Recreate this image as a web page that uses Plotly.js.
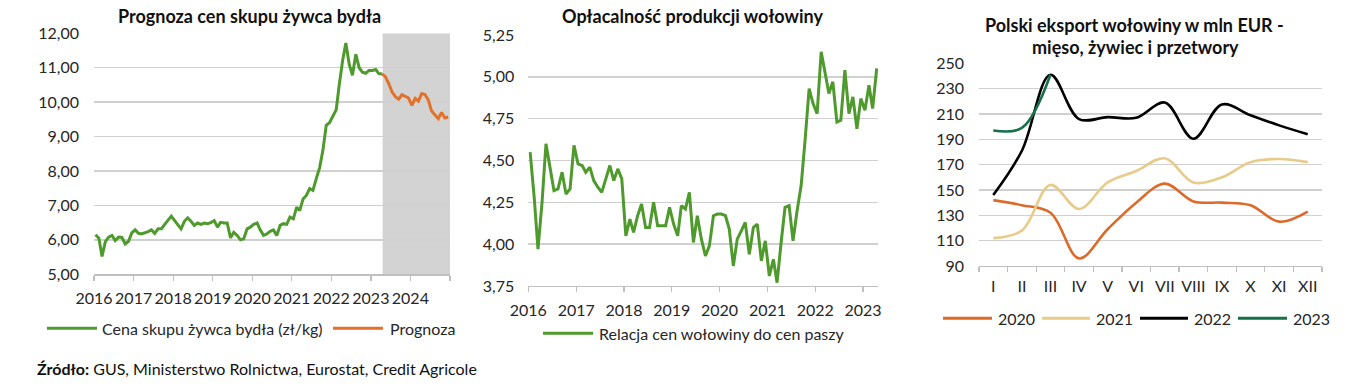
<!DOCTYPE html>
<html>
<head>
<meta charset="utf-8">
<script src="https://cdn.plot.ly/plotly-3.0.1.min.js"></script>
<style>
html,body{margin:0;padding:0;background:#fff;}
#chart{width:1355px;height:389px;}
</style>
</head>
<body>
<div id="chart"></div>
<script>
// ---------- DATA ----------
// Chart 1: monthly live cattle purchase price (zł/kg), Jan 2016 – Apr 2023
const priceStart = '2016-01';
const priceActual = [6.15,6.05,5.52,5.95,6.08,6.13,5.98,6.08,6.07,5.88,5.96,6.20,
  6.29,6.19,6.17,6.20,6.24,6.29,6.19,6.32,6.32,6.45,6.56,6.69,
  6.56,6.45,6.32,6.54,6.64,6.54,6.42,6.49,6.45,6.49,6.47,6.50,
  6.56,6.37,6.51,6.49,6.49,6.06,6.22,6.13,6.00,6.03,6.32,6.37,
  6.45,6.49,6.29,6.13,6.17,6.25,6.29,6.13,6.42,6.47,6.45,6.66,
  6.61,6.95,6.85,7.19,7.29,7.49,7.44,7.78,8.10,8.60,9.33,9.40,
  9.60,9.78,10.50,11.20,11.72,11.10,10.78,11.39,11.00,10.87,10.84,10.92,
  10.92,10.95,10.83,10.82];
// Forecast, Apr 2023 – Dec 2024
const forecastStart = '2023-04';
const priceForecast = [10.82,10.74,10.54,10.30,10.16,10.09,10.22,10.17,10.12,9.91,10.11,10.03,
  10.25,10.22,10.06,9.74,9.64,9.52,9.70,9.54,9.57];
const forecastShadeFrom = '2023-04-20';
const priceYearTicks = ['2016','2017','2018','2019','2020','2021','2022','2023','2024'];

// Chart 2: beef-to-feed price ratio, Jan 2016 – Apr 2023
const ratioStart = '2016-01';
const ratio = [4.55,4.28,3.97,4.25,4.60,4.45,4.32,4.33,4.43,4.30,4.33,4.59,
  4.48,4.47,4.43,4.46,4.38,4.34,4.31,4.39,4.47,4.38,4.45,4.39,
  4.05,4.15,4.07,4.17,4.24,4.10,4.10,4.25,4.11,4.11,4.11,4.22,
  4.12,4.05,4.23,4.21,4.31,4.01,4.17,4.03,3.93,3.99,4.17,4.18,
  4.18,4.17,4.09,3.87,4.03,4.08,4.13,3.94,4.10,4.12,3.90,4.02,
  3.81,3.91,3.77,4.01,4.22,4.23,4.02,4.20,4.35,4.62,4.93,4.84,
  4.78,5.15,5.04,4.90,4.97,4.73,4.74,5.04,4.78,4.88,4.69,4.87,
  4.80,4.95,4.81,5.05];
const ratioYearTicks = ['2016','2017','2018','2019','2020','2021','2022','2023'];

// Chart 3: Polish beef exports, mln EUR
const monthsRoman = ['I','II','III','IV','V','VI','VII','VIII','IX','X','XI','XII'];
const exp2020 = [142,138,132,96,119,140,155,141,140,138,125,133];
const exp2021 = [112,118,154,135,156,165,175,156,160,172,174.5,172];
const exp2022 = [146,181,241,206,207.5,207,219,190.5,217.5,209,201,194];
const exp2023 = [197,199,241];

// ---------- HELPERS ----------
function monthSeries(start, n){
  const [y0,m0] = start.split('-').map(Number);
  const out = [];
  for(let i=0;i<n;i++){
    const t = (m0-1)+i, y = y0+Math.floor(t/12), m = (t%12)+1;
    out.push(y+'-'+String(m).padStart(2,'0')+'-15');
  }
  return out;
}
const W=1355, H=389;
const PX = x => x/W, PY = y => 1 - y/H;

const FONT = 'Lato, Carlito, "Open Sans", sans-serif';
const TXT = '#262626';
const GRID = '#d0d0d0';
const AXL = '#bfbfbf';

const cGreen = '#4e9a2d', cOrange = '#e2712a';
const c2020 = '#dc6a2a', c2021 = '#e6cb8a', c2022 = '#000000', c2023 = '#16704a';

// ---------- TRACES ----------
const traces = [
  {x: monthSeries(priceStart, priceActual.length), y: priceActual, xaxis:'x', yaxis:'y',
   mode:'lines', line:{color:cGreen, width:3}},
  {x: monthSeries(forecastStart, priceForecast.length), y: priceForecast, xaxis:'x', yaxis:'y',
   mode:'lines', line:{color:cOrange, width:3}},
  {x: monthSeries(ratioStart, ratio.length), y: ratio, xaxis:'x2', yaxis:'y2',
   mode:'lines', line:{color:cGreen, width:3}},
  {x: monthsRoman, y: exp2020, xaxis:'x3', yaxis:'y3', mode:'lines', line:{color:c2020,width:2.6,shape:'spline',smoothing:1}},
  {x: monthsRoman, y: exp2021, xaxis:'x3', yaxis:'y3', mode:'lines', line:{color:c2021,width:2.6,shape:'spline',smoothing:1}},
  {x: monthsRoman, y: exp2022, xaxis:'x3', yaxis:'y3', mode:'lines', line:{color:c2022,width:2.6,shape:'spline',smoothing:1}},
  {x: monthsRoman.slice(0,exp2023.length), y: exp2023, xaxis:'x3', yaxis:'y3', mode:'lines', line:{color:c2023,width:2.6,shape:'spline',smoothing:1}}
];

const tickFont = {family:FONT, size:16, color:TXT};
const titleFont = {family:FONT, size:18, color:'#111'};
const legFont = {family:FONT, size:16, color:TXT};

function yearVals(labels, extra){
  const v = labels.map(l => l+'-01-01');
  if(extra) v.push(extra);
  return v;
}

const layout = {
  width:W, height:H,
  margin:{l:0,r:0,t:0,b:0},
  paper_bgcolor:'#fff', plot_bgcolor:'rgba(0,0,0,0)',
  separators:', ',
  showlegend:false,
  font:{family:FONT, color:TXT},
  // chart 1
  xaxis:{domain:[PX(94),PX(450)], anchor:'y', type:'date',
    range:['2016-01-01','2025-01-01'],
    tickmode:'array', tickvals:yearVals(priceYearTicks,'2025-01-01'), ticktext:priceYearTicks.concat(['']),
    ticks:'outside', ticklen:5, tickcolor:AXL, tickwidth:1.3, tickangle:0,
    showline:true, linecolor:AXL, linewidth:1.3, showgrid:false, zeroline:false,
    tickfont:tickFont, ticklabelstandoff:4, fixedrange:true},
  yaxis:{domain:[PY(274.3),PY(33.3)], anchor:'x', range:[5,12], dtick:1, tick0:5,
    tickformat:'.2f', showgrid:true, gridcolor:GRID, gridwidth:1.4, zeroline:false,
    showline:false, ticks:'', tickfont:tickFont, ticklabelstandoff:14, fixedrange:true},
  // chart 2
  xaxis2:{domain:[PX(528.3),PX(878)], anchor:'y2', type:'date',
    range:['2016-01-01','2023-04-25'],
    tickmode:'array', tickvals:yearVals(ratioYearTicks), ticktext:ratioYearTicks,
    ticks:'outside', ticklen:5, tickcolor:AXL, tickwidth:1.3, tickangle:0,
    showline:true, linecolor:AXL, linewidth:1.3, showgrid:false, zeroline:false,
    tickfont:tickFont, ticklabelstandoff:4, fixedrange:true},
  yaxis2:{domain:[PY(286),PY(35)], anchor:'x2', range:[3.75,5.25], dtick:0.25, tick0:3.75,
    tickformat:'.2f', showgrid:true, gridcolor:GRID, gridwidth:1.4, zeroline:false,
    showline:false, ticks:'', tickfont:tickFont, ticklabelstandoff:13, fixedrange:true},
  // chart 3
  xaxis3:{domain:[PX(979),PX(1322)], anchor:'y3', type:'category',
    range:[-0.5,11.5], tickson:'boundaries', tickangle:0,
    ticks:'outside', ticklen:5, tickcolor:AXL, tickwidth:1.3,
    showline:true, linecolor:AXL, linewidth:1.3, showgrid:false, zeroline:false,
    tickfont:tickFont, ticklabelstandoff:5, fixedrange:true},
  yaxis3:{domain:[PY(266),PY(63.3)], anchor:'x3', range:[90,250], dtick:20, tick0:90,
    showgrid:true, gridcolor:GRID, gridwidth:1.4, zeroline:false,
    showline:false, ticks:'', tickfont:tickFont, ticklabelstandoff:14, fixedrange:true},
  shapes:[
    {type:'rect', xref:'x', yref:'y', x0:forecastShadeFrom, x1:'2025-01-01', y0:5, y1:12,
     fillcolor:'#d3d3d3', line:{width:0}, layer:'below'},
    // legend 1
    {type:'line', xref:'paper', yref:'paper', x0:PX(47), x1:PX(97), y0:PY(328.3), y1:PY(328.3), line:{color:cGreen,width:3}},
    {type:'line', xref:'paper', yref:'paper', x0:PX(333), x1:PX(383), y0:PY(328.3), y1:PY(328.3), line:{color:cOrange,width:3}},
    // legend 2
    {type:'line', xref:'paper', yref:'paper', x0:PX(543), x1:PX(593), y0:PY(333.3), y1:PY(333.3), line:{color:cGreen,width:3}},
    // legend 3
    {type:'line', xref:'paper', yref:'paper', x0:PX(943), x1:PX(992), y0:PY(318.3), y1:PY(318.3), line:{color:c2020,width:3}},
    {type:'line', xref:'paper', yref:'paper', x0:PX(1042), x1:PX(1090), y0:PY(318.3), y1:PY(318.3), line:{color:c2021,width:3}},
    {type:'line', xref:'paper', yref:'paper', x0:PX(1140), x1:PX(1188), y0:PY(318.3), y1:PY(318.3), line:{color:c2022,width:3}},
    {type:'line', xref:'paper', yref:'paper', x0:PX(1238), x1:PX(1287), y0:PY(318.3), y1:PY(318.3), line:{color:c2023,width:3}}
  ],
  annotations:[
    {text:'<b>Prognoza cen skupu żywca bydła</b>', xref:'paper', yref:'paper', x:PX(249), y:PY(16),
     xanchor:'center', yanchor:'middle', showarrow:false, font:titleFont},
    {text:'<b>Opłacalność produkcji wołowiny</b>', xref:'paper', yref:'paper', x:PX(692.5), y:PY(16),
     xanchor:'center', yanchor:'middle', showarrow:false, font:titleFont},
    {text:'<b>Polski eksport wołowiny w mln EUR -</b>', xref:'paper', yref:'paper', x:PX(1134), y:PY(25),
     xanchor:'center', yanchor:'middle', showarrow:false, font:titleFont},
    {text:'<b>mięso, żywiec i przetwory</b>', xref:'paper', yref:'paper', x:PX(1135), y:PY(47),
     xanchor:'center', yanchor:'middle', showarrow:false, font:titleFont},
    // legend texts
    {text:'Cena skupu żywca bydła (zł/kg)', xref:'paper', yref:'paper', x:PX(100), y:PY(328.3),
     xanchor:'left', yanchor:'middle', showarrow:false, font:legFont},
    {text:'Prognoza', xref:'paper', yref:'paper', x:PX(388), y:PY(328.3),
     xanchor:'left', yanchor:'middle', showarrow:false, font:legFont},
    {text:'Relacja cen wołowiny do cen paszy', xref:'paper', yref:'paper', x:PX(597), y:PY(333.3),
     xanchor:'left', yanchor:'middle', showarrow:false, font:legFont},
    {text:'2020', xref:'paper', yref:'paper', x:PX(996), y:PY(318.3), xanchor:'left', yanchor:'middle', showarrow:false, font:legFont},
    {text:'2021', xref:'paper', yref:'paper', x:PX(1094), y:PY(318.3), xanchor:'left', yanchor:'middle', showarrow:false, font:legFont},
    {text:'2022', xref:'paper', yref:'paper', x:PX(1192), y:PY(318.3), xanchor:'left', yanchor:'middle', showarrow:false, font:legFont},
    {text:'2023', xref:'paper', yref:'paper', x:PX(1291), y:PY(318.3), xanchor:'left', yanchor:'middle', showarrow:false, font:legFont},
    // source
    {text:'<b>Źródło:</b> GUS, Ministerstwo Rolnictwa, Eurostat, Credit Agricole', xref:'paper', yref:'paper',
     x:PX(35), y:PY(368), xanchor:'left', yanchor:'middle', showarrow:false, font:{family:FONT,size:16,color:'#111'}}
  ]
};

Plotly.newPlot('chart', traces, layout, {staticPlot:true, displayModeBar:false});
</script>
</body>
</html>
